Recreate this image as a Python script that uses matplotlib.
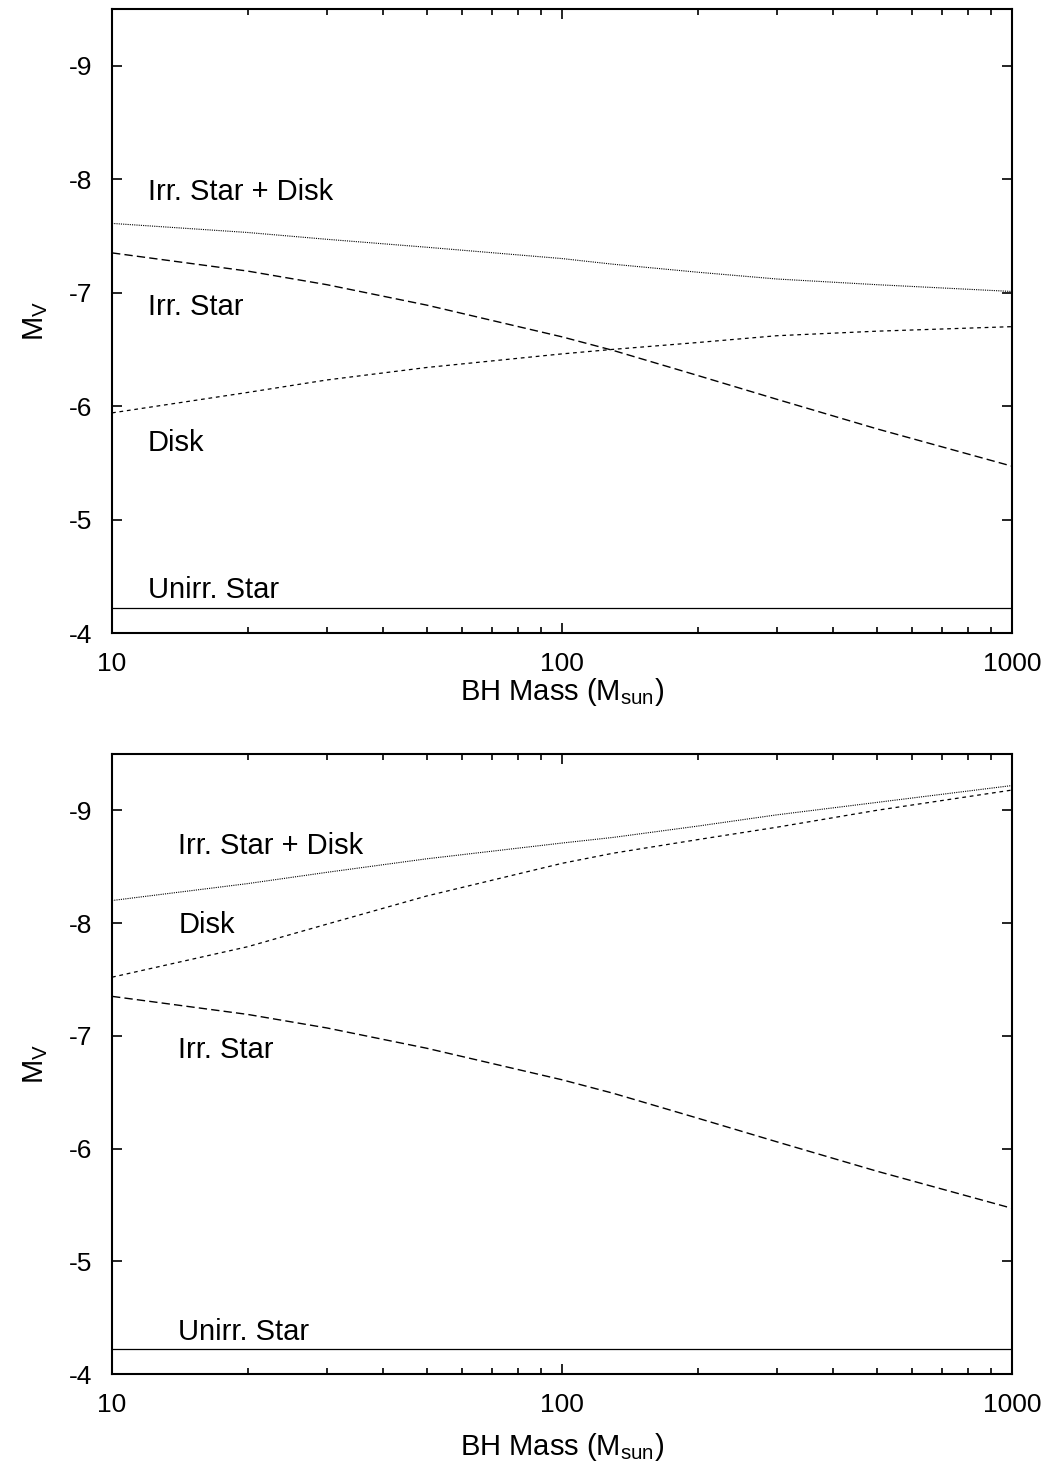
import matplotlib
matplotlib.use("Agg")
import matplotlib.pyplot as plt
from matplotlib.ticker import FixedLocator, LogLocator, NullFormatter

plt.rcParams["font.family"] = ["Liberation Sans", "DejaVu Sans"]
plt.rcParams["mathtext.fontset"] = "custom"
plt.rcParams["mathtext.rm"] = "Liberation Sans"
plt.rcParams["mathtext.it"] = "Liberation Sans:italic"

# BH mass grid (solar masses)
mass = [10, 20, 30, 50, 100, 130, 200, 300, 500, 1000]

# absolute V magnitudes, shared by both panels
irr_star = [-7.35, -7.19, -7.07, -6.89, -6.61, -6.49, -6.27, -6.06, -5.80, -5.47]
unirr_star = [-4.22] * len(mass)

# upper panel
top_disk = [-5.94, -6.12, -6.23, -6.34, -6.46, -6.50, -6.56, -6.62, -6.66, -6.70]
top_total = [-7.61, -7.53, -7.47, -7.40, -7.30, -7.25, -7.18, -7.12, -7.07, -7.01]

# lower panel
bot_disk = [-7.52, -7.79, -7.99, -8.24, -8.53, -8.62, -8.74, -8.85, -9.00, -9.18]
bot_total = [-8.20, -8.35, -8.45, -8.57, -8.71, -8.76, -8.86, -8.96, -9.07, -9.22]

yticks = [-4, -5, -6, -7, -8, -9]
xticks = [10, 100, 1000]
xticklabels = ["10", "100", "1000"]

# (text, x, baseline y) per panel
top_labels = [("Irr. Star + Disk", 12.0, -7.82), ("Irr. Star", 12.0, -6.80),
              ("Disk", 12.0, -5.60), ("Unirr. Star", 12.0, -4.31)]
bot_labels = [("Irr. Star + Disk", 14.05, -8.61), ("Disk", 14.05, -7.91),
              ("Irr. Star", 14.05, -6.80), ("Unirr. Star", 14.05, -4.30)]

fig = plt.figure(figsize=(10.58, 14.68), dpi=100)
ax_top = fig.add_axes([0.1059, 0.5688, 0.8507, 0.4251])
ax_bot = fig.add_axes([0.1059, 0.0640, 0.8507, 0.4224])


def draw_panel(ax, total, disk, labels, xlabelpad):
    ax.plot(mass, unirr_star, color="black", lw=0.9, ls="-")
    ax.plot(mass, irr_star, color="black", lw=1.0, ls=(0, (6, 3)))
    ax.plot(mass, disk, color="black", lw=0.9, ls=(0, (3, 3)))
    ax.plot(mass, total, color="black", lw=0.8, ls=(0, (1, 1)))

    ax.set_xscale("log")
    ax.set_xlim(10, 1000)
    ax.set_ylim(-4, -9.5)

    ax.xaxis.set_major_locator(FixedLocator(xticks))
    ax.set_xticklabels(xticklabels)
    ax.xaxis.set_minor_locator(LogLocator(base=10, subs=range(2, 10)))
    ax.xaxis.set_minor_formatter(NullFormatter())
    ax.set_yticks(yticks)
    ax.set_yticklabels([str(v) for v in yticks])

    ax.tick_params(which="both", direction="in", top=True, right=True,
                   width=1.2, labelsize=19, pad=14)
    ax.tick_params(which="major", length=7.5)
    ax.tick_params(which="minor", length=4)
    for sp in ax.spines.values():
        sp.set_linewidth(1.5)

    ax.set_xlabel("BH Mass (M$_\\mathregular{sun}$)", fontsize=21, labelpad=xlabelpad)
    ax.set_ylabel("M$_\\mathregular{V}$", fontsize=21, labelpad=14)

    for txt, x, y in labels:
        ax.text(x, y, txt, fontsize=21, ha="left", va="baseline")


draw_panel(ax_top, top_total, top_disk, top_labels, 0)
draw_panel(ax_bot, bot_total, bot_disk, bot_labels, 10)

fig.savefig("out.png", dpi=100, facecolor="white")
